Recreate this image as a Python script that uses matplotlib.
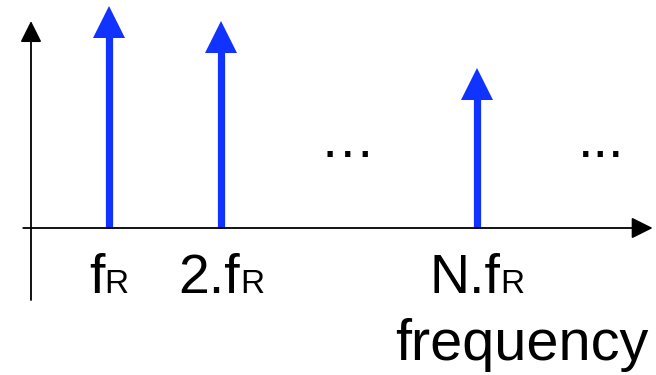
import matplotlib.pyplot as plt

# harmonic lines of the spectrum (x in arbitrary frequency units, amplitude normalised)
harmonic_names = ['f', '2.f', 'N.f']
harmonic_sub = ['R', 'R', 'R']
harmonic_pos = [1.0, 2.44, 5.72]
harmonic_amp = [1.0, 0.93, 0.72]

# "more lines here" markers
gap_pos = [4.05, 7.31]
gap_text = ['\u2026', '...']

axis_label = 'frequency'

plt.rcParams['font.family'] = ['Liberation Sans', 'DejaVu Sans']

W, H = 656, 375
fig = plt.figure(figsize=(W / 100, H / 100), dpi=100)
ax = fig.add_axes([0, 0, 1, 1])
# 78 px per frequency unit, 223 px per amplitude unit, origin at (31, 228) px from top-left
sx, sy = 78.0, 223.0
ax.set_xlim(-31 / sx, (W - 31) / sx)
ax.set_ylim(-(H - 228) / sy, 228 / sy)
ax.axis('off')

blue = '#1133ff'

# axes with arrow heads
black_arrow = dict(arrowstyle='-|>,head_length=13,head_width=6.5', mutation_scale=1,
                   lw=1.3, color='black', shrinkA=0, shrinkB=0)
ax.annotate('', xy=(0, 0.928), xytext=(0, -0.323), arrowprops=black_arrow)
ax.annotate('', xy=(7.97, 0), xytext=(-0.1, 0), arrowprops=black_arrow)

# spectral lines
head = 33 / sy
ax.vlines(harmonic_pos, 0, [a - head + 0.01 for a in harmonic_amp], color=blue, lw=5.2)
ax.plot(harmonic_pos, [a - head / 2 for a in harmonic_amp], ls='none', marker='^',
        ms=23.5, mew=0, color=blue)

fig.canvas.draw()
renderer = fig.canvas.get_renderer()
fs = 40
for name, sub, x in zip(harmonic_names, harmonic_sub, harmonic_pos):
    t1 = ax.text(0, -0.29, name, fontsize=fs, va='baseline', ha='left')
    t2 = ax.text(0, -0.29, sub, fontsize=fs * 0.6, va='baseline', ha='left')
    w1 = t1.get_window_extent(renderer).width / sx
    w2 = t2.get_window_extent(renderer).width / sx
    start = x - (w1 + w2) / 2
    t1.set_x(start)
    t2.set_x(start + w1)

for x, s in zip(gap_pos, gap_text):
    ax.text(x, 0.318, s, fontsize=fs, va='baseline', ha='center')

ax.text((648 - 31) / sx, -0.594, axis_label, fontsize=41.5, va='baseline', ha='right')

fig.savefig('out.png', dpi=100)
